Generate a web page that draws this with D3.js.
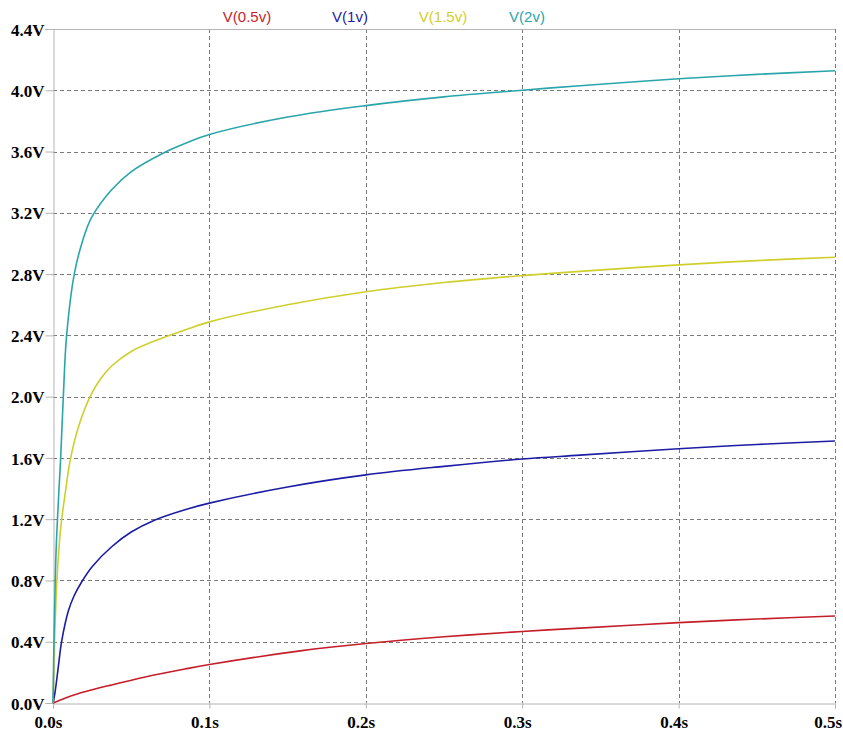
<!DOCTYPE html>
<html>
<head>
<meta charset="utf-8">
<script src="https://cdn.jsdelivr.net/npm/d3@7/dist/d3.min.js"></script>
<style>
  html, body { margin: 0; padding: 0; background: #fff; }
  svg { display: block; }
</style>
</head>
<body>
<svg id="chart" width="843" height="733"></svg>
<script>
// Transient node voltages, time in seconds, voltage in volts
const seriesNames = ["V(0.5v)", "V(1v)", "V(1.5v)", "V(2v)"];
const seriesColors = ["#c41e2a", "#1c1ca4", "#cfcf2c", "#2aa6aa"];

const tRed  = [0, 0.008, 0.016, 0.0375, 0.059, 0.0844, 0.1, 0.158, 0.2, 0.25, 0.3, 0.337, 0.4, 0.45, 0.5];
const vRed  = [0, 0.033, 0.061, 0.118, 0.17, 0.222, 0.251, 0.34, 0.388, 0.432, 0.467, 0.489, 0.525, 0.548, 0.568];

const tBlue = [0, 0.0013, 0.0034, 0.0055, 0.0098, 0.0135, 0.0183, 0.025, 0.0375, 0.05, 0.0652, 0.0844, 0.1, 0.15, 0.2, 0.25, 0.3, 0.337, 0.4, 0.45, 0.5];
const vBlue = [0, 0.07, 0.236, 0.4, 0.60, 0.70, 0.79, 0.89, 1.02, 1.116, 1.195, 1.262, 1.305, 1.41, 1.489, 1.545, 1.593, 1.618, 1.66, 1.688, 1.71];

const tYellow = [0, 0.001, 0.0025, 0.005, 0.0081, 0.0109, 0.0162, 0.0237, 0.03, 0.0375, 0.05, 0.0705, 0.0844, 0.1, 0.15, 0.2, 0.25, 0.3, 0.337, 0.4, 0.45, 0.5];
const vYellow = [0, 0.4, 0.8, 1.15, 1.39, 1.58, 1.8, 2.0, 2.11, 2.2, 2.295, 2.385, 2.435, 2.488, 2.6, 2.685, 2.745, 2.79, 2.818, 2.86, 2.888, 2.91];

const tTeal = [0, 0.0008, 0.002, 0.0038, 0.0049, 0.0066, 0.0087, 0.0136, 0.019, 0.0247, 0.0375, 0.0503, 0.0716, 0.0844, 0.1, 0.15, 0.2, 0.25, 0.3, 0.337, 0.4, 0.45, 0.5];
const vTeal = [0, 0.5, 1.0, 1.39, 1.6, 2.0, 2.4, 2.8, 3.02, 3.17, 3.35, 3.47, 3.595, 3.652, 3.711, 3.825, 3.9, 3.957, 4.0, 4.03, 4.075, 4.104, 4.127];

const xTicks = [0, 0.1, 0.2, 0.3, 0.4, 0.5];
const xTickLabels = ["0.0s", "0.1s", "0.2s", "0.3s", "0.4s", "0.5s"];
const yTicks = [0, 0.4, 0.8, 1.2, 1.6, 2.0, 2.4, 2.8, 3.2, 3.6, 4.0, 4.4];
const yTickLabels = ["0.0V", "0.4V", "0.8V", "1.2V", "1.6V", "2.0V", "2.4V", "2.8V", "3.2V", "3.6V", "4.0V", "4.4V"];
const legendCenters = [247, 350, 443, 527];

const W = 843, H = 733;
const margin = { top: 29, right: 8, bottom: 30, left: 53 };
const svg = d3.select("#chart");

const x = d3.scaleLinear().domain([0, 0.5]).range([margin.left, W - margin.right]);
const y = d3.scaleLinear().domain([0, 4.4]).range([H - margin.bottom, margin.top]);

const gridColor = "#7a7a7a";
const axisColor = "#b4b4b4";

// dashed grid
svg.append("g").selectAll("line").data(yTicks.filter(v => v > 0 && v < 4.4)).join("line")
  .attr("x1", x(0)).attr("x2", x(0.5))
  .attr("y1", d => Math.round(y(d)) + 0.5).attr("y2", d => Math.round(y(d)) + 0.5)
  .attr("stroke", gridColor).attr("stroke-width", 1).attr("stroke-dasharray", "4,3");
svg.append("g").selectAll("line").data(xTicks.filter(v => v > 0)).join("line")
  .attr("x1", d => Math.round(x(d)) + 0.5).attr("x2", d => Math.round(x(d)) + 0.5)
  .attr("y1", y(4.4)).attr("y2", y(0))
  .attr("stroke", gridColor).attr("stroke-width", 1).attr("stroke-dasharray", "4,3");

// top border
svg.append("line")
  .attr("x1", x(0) - 8).attr("x2", x(0.5))
  .attr("y1", Math.round(y(4.4)) + 0.5).attr("y2", Math.round(y(4.4)) + 0.5)
  .attr("stroke", axisColor);

// axes
const yAxis = d3.axisLeft(y).tickValues(yTicks)
  .tickFormat((d, i) => yTickLabels[i]).tickSize(8).tickPadding(1);
const xAxis = d3.axisBottom(x).tickValues(xTicks)
  .tickFormat((d, i) => xTickLabels[i]).tickSize(5).tickPadding(6);

const gy = svg.append("g").attr("transform", `translate(${Math.round(x(0)) + 0.5},0)`).call(yAxis);
const gx = svg.append("g").attr("transform", `translate(0,${Math.round(y(0)) + 0.5})`).call(xAxis);

[gx, gy].forEach(g => {
  g.select(".domain").attr("stroke", axisColor);
  g.selectAll(".tick line").attr("stroke", axisColor);
  g.selectAll(".tick text")
    .attr("fill", "#000")
    .style("font-family", "'Liberation Serif', 'Times New Roman', serif")
    .style("font-weight", "bold")
    .style("font-size", "17px");
});
gy.selectAll(".tick text").attr("dy", "0.36em");
gx.selectAll(".tick text").attr("dy", "0.8em").attr("dx", -5);
// keep the last time label inside the page
gx.selectAll(".tick text").filter((d, i) => i === xTicks.length - 1)
  .attr("text-anchor", "end").attr("dx", 0)
  .attr("x", (W - 1) - (Math.round(x(0.5)) + 0.5));

// traces
const seriesData = [
  d3.zip(tRed, vRed),
  d3.zip(tBlue, vBlue),
  d3.zip(tYellow, vYellow),
  d3.zip(tTeal, vTeal)
];
const line = d3.line().x(d => x(d[0])).y(d => y(d[1])).curve(d3.curveCatmullRom.alpha(0.5));

svg.append("g").selectAll("path").data(seriesData).join("path")
  .attr("d", line)
  .attr("fill", "none")
  .attr("stroke", (d, i) => seriesColors[i])
  .attr("stroke-width", 1.6);

// trace names
svg.append("g").selectAll("text").data(seriesNames).join("text")
  .attr("x", (d, i) => legendCenters[i])
  .attr("y", 22)
  .attr("text-anchor", "middle")
  .attr("fill", (d, i) => seriesColors[i])
  .style("font-family", "'Liberation Sans', Arial, sans-serif")
  .style("font-size", "15px")
  .text(d => d);
</script>
</body>
</html>
